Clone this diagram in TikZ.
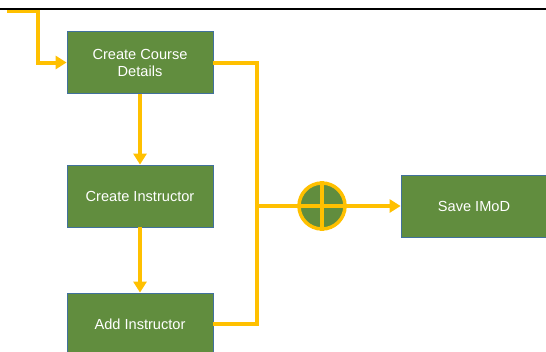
\documentclass[tikz,border=0pt]{standalone}
\usepackage{fontspec}
\setmainfont{Liberation Sans}
\usetikzlibrary{arrows.meta}

\definecolor{boxgreen}{RGB}{97,141,62}
\definecolor{boxedge}{RGB}{65,113,156}
\definecolor{flowyellow}{RGB}{255,192,0}

\begin{document}
\begin{tikzpicture}[x=1pt,y=-1pt,font=\fontsize{14.6}{17}\selectfont]
    \tikzstyle{block}=[rectangle,fill=boxgreen,draw=boxedge,line width=0.8pt,text=white,minimum width=146pt,minimum height=62pt,align=center,inner sep=0pt]
    \tikzstyle{flow}=[draw=flowyellow,line width=4pt]
    \tikzstyle{flowarrow}=[flow,-{Triangle[length=11pt,width=13pt]}]
    \tikzstyle{merge}=[circle,fill=boxgreen,draw=flowyellow,line width=3.5pt,minimum size=46pt,inner sep=0pt]

    \clip (0,0) rectangle (546,351);

    \node[block] (course) at (140,62.5) {Create Course\\Details};
    \node[block] (instr) at (140,196) {Create Instructor};
    \node[block] (add) at (140,324) {Add Instructor};
    \node[block] (save) at (474,206) {Save IMoD};
    \node[merge] (plus) at (322,206) {};

    \coordinate (in) at (7,11);
    \coordinate (join) at (257,206);

    \draw[flowarrow] (in) -- ++(31,0) |- (course.west);
    \draw[flowarrow] (course.south) -- (instr.north);
    \draw[flowarrow] (instr.south) -- (add.north);
    \draw[flow] (course.east) -| (join);
    \draw[flow] (add.east) -| (join);
    \draw[flow] (join) -- (plus.west);
    \draw[flowarrow] (plus.east) -- (save.west);

    % cross inside the merge circle
    \draw[flow,line width=3.5pt] (plus.north) -- (plus.south);
    \draw[flow,line width=3.5pt] (plus.west) -- (plus.east);

    \draw[line width=2.5pt] (0,9) -- (546,9);
\end{tikzpicture}
\end{document}
